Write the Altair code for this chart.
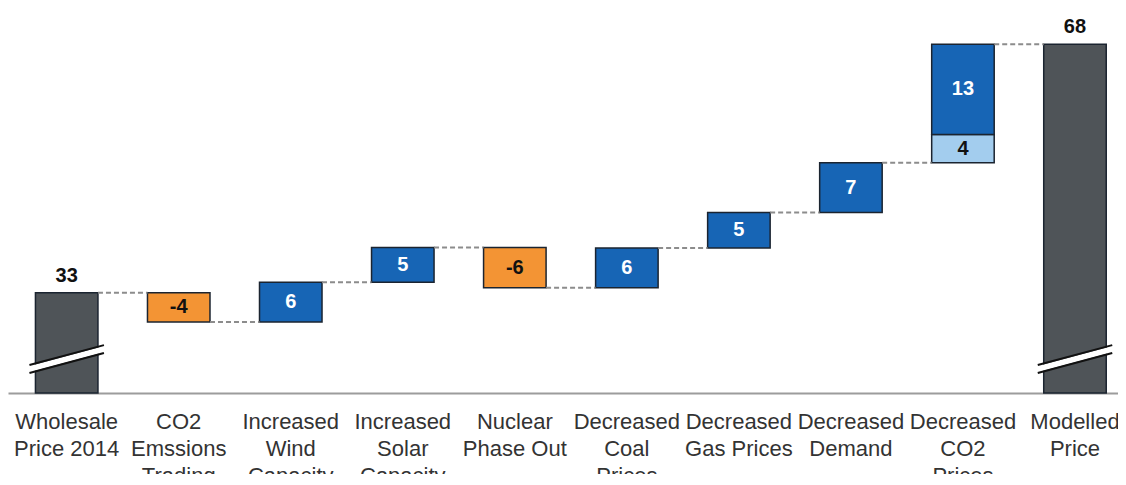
import altair as alt
import pandas as pd

# ---------------- data ----------------
categories = [
    "Wholesale\nPrice 2014",
    "CO2\nEmssions\nTrading",
    "Increased\nWind\nCapacity",
    "Increased\nSolar\nCapacity",
    "Nuclear\nPhase Out",
    "Decreased\nCoal\nPrices",
    "Decreased\nGas Prices",
    "Decreased\nDemand",
    "Decreased\nCO2\nPrices",
    "Modelled\nPrice",
]
start_total = 33
end_total = 68
# change steps for categories 1..8 (last one is split in two parts)
step_values = [[-4.1], [5.6], [4.9], [-5.7], [5.6], [5.0], [7.0], [4.0, 12.7]]
step_kinds = [["neg"], ["pos"], ["pos"], ["neg"], ["pos"], ["pos"], ["pos"], ["light", "pos"]]

# visible part of the (broken) value axis
y_domain = [18.9, 73.1]
# broken-axis marks on total bars (value at left / right end of the break)
break_left, break_right, break_gap = 22.27, 25.08, 0.56

fills = {"total": "#4f5458", "pos": "#1765b5", "neg": "#f39434", "light": "#a3cdee"}
text_colors = {"total": "#111111", "pos": "#ffffff", "neg": "#111111", "light": "#111111"}

# ---------------- tables ----------------
bar_rows = [dict(cat=categories[0], y0=0, y1=start_total, kind="total",
                 label=str(start_total), mid=start_total)]
levels = [start_total]
level = start_total
for i, (vals, kinds) in enumerate(zip(step_values, step_kinds)):
    cat = categories[i + 1]
    for v, k in zip(vals, kinds):
        y0, y1 = level, level + v
        bar_rows.append(dict(cat=cat, y0=y0, y1=y1, kind=k,
                             label=f"{round(v):d}", mid=(y0 + y1) / 2))
        level = y1
    levels.append(level)
bar_rows.append(dict(cat=categories[-1], y0=0, y1=end_total, kind="total",
                     label=str(end_total), mid=end_total))
levels.append(end_total)
bars = pd.DataFrame(bar_rows)
bars["fill"] = bars["kind"].map(fills)
bars["tcolor"] = bars["kind"].map(text_colors)

conn = pd.DataFrame([dict(cat=categories[i], c_to=categories[i + 1], level=levels[i])
                     for i in range(len(categories) - 1)])

brk = pd.DataFrame([dict(cat=c, yl=break_left, yr=break_right) for c in (categories[0], categories[-1])])
brk["yl_hi"] = brk["yl"] + break_gap
brk["yr_hi"] = brk["yr"] + break_gap
brk["yl_lo"] = brk["yl"] - break_gap
brk["yr_lo"] = brk["yr"] - break_gap

HALF = 31.25  # half bar width in px

# ---------------- scales ----------------
xscale = alt.Scale(domain=categories, paddingInner=0.442, paddingOuter=0.175, align=0.70)
yscale = alt.Scale(domain=y_domain, clamp=True, nice=False, zero=False)

X = alt.X("cat:N", scale=xscale,
          axis=alt.Axis(title=None, labelExpr="split(datum.label, '\\n')", labelAngle=0,
                        ticks=False, domainColor="#9c9c9c", domainWidth=2,
                        labelFont="Liberation Sans", labelFontSize=22, labelColor="#333333",
                        labelLineHeight=27, labelPadding=18, labelOverlap=False,
                        labelLimit=0, grid=False))

base_bars = alt.Chart(bars)

bar_layer = base_bars.mark_bar(stroke="#1b2430", strokeWidth=1.5).encode(
    x=X,
    y=alt.Y("y0:Q", scale=yscale, axis=None),
    y2="y1:Q",
    fill=alt.Fill("fill:N", scale=None),
)

conn_layer = alt.Chart(conn).mark_rule(
    color="#8c8c8c", strokeWidth=2, strokeDash=[5, 3], xOffset=HALF, x2Offset=-HALF
).encode(
    x=alt.X("cat:N"),
    x2="c_to:N",
    y=alt.Y("level:Q"),
)

inner_text = base_bars.transform_filter("datum.kind != 'total'").mark_text(
    font="Liberation Sans", fontWeight="bold", fontSize=20, baseline="middle", align="center"
).encode(
    x=alt.X("cat:N"),
    y=alt.Y("mid:Q"),
    text="label:N",
    color=alt.Color("tcolor:N", scale=None),
)

total_text = base_bars.transform_filter("datum.kind == 'total'").mark_text(
    font="Liberation Sans", fontWeight="bold", fontSize=20, baseline="middle", align="center", dy=-17,
    color="#111111"
).encode(
    x=alt.X("cat:N"),
    y=alt.Y("y1:Q"),
    text="label:N",
)

def break_line(ycol, y2col, color, width):
    return alt.Chart(brk).mark_rule(
        color=color, strokeWidth=width, xOffset=-(HALF + 6), x2Offset=HALF + 6
    ).encode(
        x=alt.X("cat:N"),
        x2="cat:N",
        y=alt.Y(f"{ycol}:Q"),
        y2=f"{y2col}:Q",
    )

brk_white = break_line("yl", "yr", "#ffffff", 6)
brk_hi = break_line("yl_hi", "yr_hi", "#111111", 2)
brk_lo = break_line("yl_lo", "yr_lo", "#111111", 2)

chart = alt.layer(
    bar_layer, conn_layer, brk_white, brk_hi, brk_lo, inner_text, total_text
).properties(
    width=1110, height=385,
    autosize=alt.AutoSizeParams(type="none"),
    padding={"left": 0, "right": 0, "top": 0, "bottom": 81},
    background="#ffffff",
).configure_view(stroke=None)

chart.save("out.html", embed_options={"renderer": "svg", "actions": False})
